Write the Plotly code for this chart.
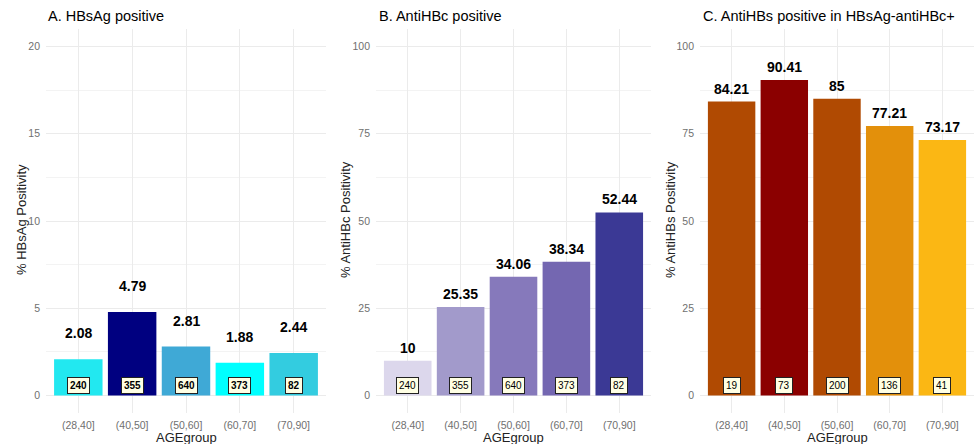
import plotly.graph_objects as go

# ---------------- data ----------------
age_groups = ["(28,40]", "(40,50]", "(50,60]", "(60,70]", "(70,90]"]

hbsag_pct = [2.08, 4.79, 2.81, 1.88, 2.44]
hbsag_n = [240, 355, 640, 373, 82]

antihbc_pct = [10, 25.35, 34.06, 38.34, 52.44]
antihbc_n = [240, 355, 640, 373, 82]

antihbs_pct = [84.21, 90.41, 85, 77.21, 73.17]
antihbs_n = [19, 73, 200, 136, 41]

panel_titles = ["A. HBsAg positive", "B. AntiHBc positive",
                "C. AntiHBs positive in HBsAg-antiHBc+"]
y_titles = ["% HBsAg Positivity", "% AntiHBc Positivity", "% AntiHBs Positivity"]
x_title = "AGEgroup"

# ---------------- styles ----------------
colors_a = ["#22E8F0", "#000080", "#3FA9D6", "#00FFFF", "#33CCE0"]
colors_b = ["#DCD7EC", "#A29ACB", "#8679BB", "#7467B1", "#3B3995"]
colors_c = ["#B04A02", "#8B0000", "#B04A02", "#E3900B", "#FBB714"]

W, H = 974, 444
font_family = "Liberation Sans, Arial, sans-serif"

panels = [
    dict(pct=hbsag_pct, n=hbsag_n, colors=colors_a, yrange=[-1, 21], dtick=5, minor=2.5,
         x0=46, x1=326, lab_shift=26, nbold=True, ytitle_x=21),
    dict(pct=antihbc_pct, n=antihbc_n, colors=colors_b, yrange=[-5, 105], dtick=25, minor=12.5,
         x0=376, x1=651, lab_shift=13, nbold=False, ytitle_x=345),
    dict(pct=antihbs_pct, n=antihbs_n, colors=colors_c, yrange=[-5, 105], dtick=25, minor=12.5,
         x0=700, x1=974, lab_shift=13, nbold=False, ytitle_x=670),
]

plot_top, plot_bot = 29, 413
ydom = [1 - plot_bot / H, 1 - plot_top / H]

fig = go.Figure()
annotations = []
layout_axes = {}

for i, p in enumerate(panels):
    k = "" if i == 0 else str(i + 1)
    xa, ya = "x" + k, "y" + k
    fig.add_trace(go.Bar(
        x=age_groups, y=p["pct"], marker=dict(color=p["colors"], line=dict(width=0)),
        width=0.9, xaxis=xa, yaxis=ya, showlegend=False, hoverinfo="skip",
    ))
    layout_axes["xaxis" + k] = dict(
        domain=[p["x0"] / W, p["x1"] / W], anchor=ya, type="category",
        range=[-0.6, 4.6], showgrid=True, gridcolor="#EBEBEB", gridwidth=1,
        zeroline=False, showline=False, ticks="",
        tickfont=dict(size=10.5, color="#707070", family=font_family),
        ticklabelstandoff=4,
    )
    layout_axes["yaxis" + k] = dict(
        domain=ydom, anchor=xa, range=p["yrange"], dtick=p["dtick"], tick0=0,
        showgrid=True, gridcolor="#EBEBEB", gridwidth=1,
        minor=dict(dtick=p["minor"], tick0=0, showgrid=True, gridcolor="#F3F3F3", gridwidth=0.6),
        zeroline=False, showline=False, ticks="",
        tickfont=dict(size=10.5, color="#707070", family=font_family),
        ticklabelstandoff=5,
    )
    xref, yref = xa, ya
    # value labels
    for cat, v in zip(age_groups, p["pct"]):
        annotations.append(dict(
            x=cat, y=v, xref=xref, yref=yref, text="<b>%s</b>" % ("%g" % v),
            showarrow=False, yanchor="middle", yshift=p["lab_shift"],
            font=dict(size=14, color="black", family=font_family),
        ))
    # count labels
    for cat, n in zip(age_groups, p["n"]):
        txt = ("<b>%d</b>" % n) if p["nbold"] else str(n)
        annotations.append(dict(
            x=cat, y=0, xref=xref, yref=yref, text=txt, showarrow=False,
            yanchor="middle", yshift=10, bgcolor="#FFFFE4", bordercolor="#222222",
            borderwidth=1, borderpad=2,
            font=dict(size=10, color="black", family=font_family),
        ))
    # panel title
    annotations.append(dict(
        x=p["x0"] / W + (0.7 / W if i else 0), y=1 - 16 / H, xref="paper", yref="paper",
        text=panel_titles[i], showarrow=False, xanchor="left", yanchor="middle",
        font=dict(size=14.5, color="black", family=font_family),
    ))
    # y title
    annotations.append(dict(
        x=p["ytitle_x"] / W, y=1 - 220 / H, xref="paper", yref="paper",
        text=y_titles[i], showarrow=False, textangle=-90, xanchor="center", yanchor="middle",
        font=dict(size=13, color="#222222", family=font_family),
    ))
    # x title
    annotations.append(dict(
        x=(p["x0"] + p["x1"]) / 2 / W, y=1 - 437 / H, xref="paper", yref="paper",
        text=x_title, showarrow=False, xanchor="center", yanchor="middle",
        font=dict(size=13, color="#222222", family=font_family),
    ))

fig.update_layout(
    width=W, height=H, margin=dict(l=0, r=0, t=0, b=0),
    paper_bgcolor="white", plot_bgcolor="white",
    annotations=annotations, bargap=0.1,
    font=dict(family=font_family),
    **layout_axes,
)

fig.write_html(
    "out.html",
    config={"displayModeBar": False},
    post_script="document.body.style.margin='0';document.body.style.overflow='hidden';",
)
